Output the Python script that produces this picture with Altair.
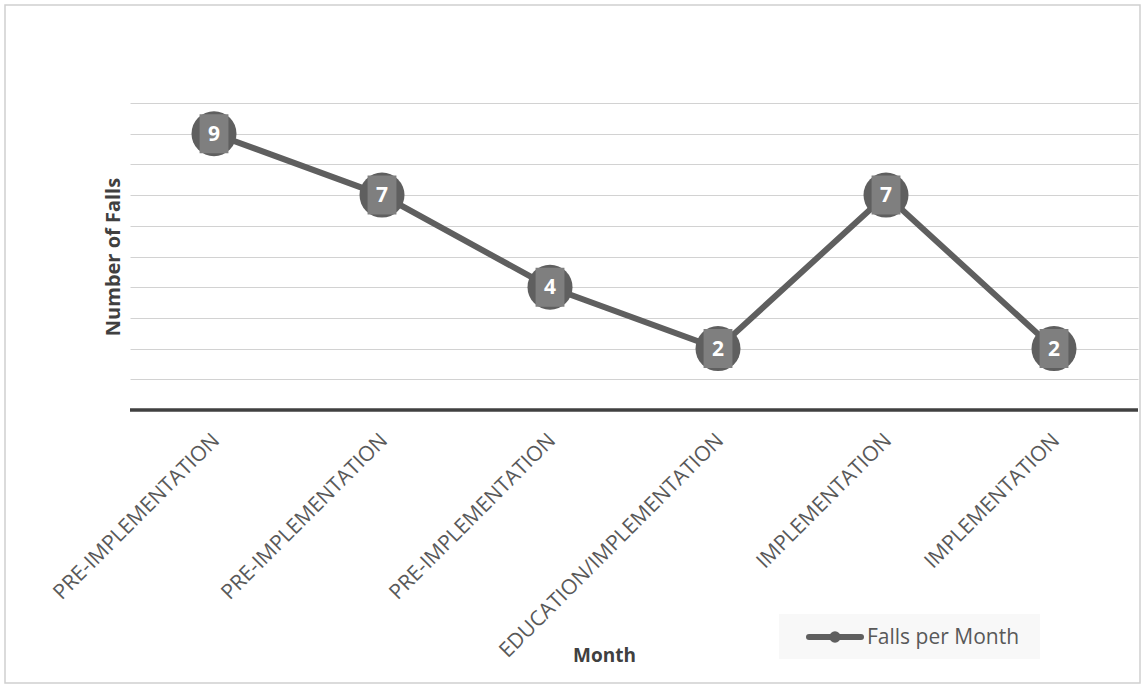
import altair as alt
import pandas as pd

# ---- data ----
positions = [0, 1, 2, 3, 4, 5]
months = ["PRE-IMPLEMENTATION", "PRE-IMPLEMENTATION", "PRE-IMPLEMENTATION",
          "EDUCATION/IMPLEMENTATION", "IMPLEMENTATION", "IMPLEMENTATION"]
falls = [9, 7, 4, 2, 7, 2]
grid_values = [1, 2, 3, 4, 5, 6, 7, 8, 9, 10]
series_name = "Falls per Month"

df = pd.DataFrame({"pos": positions, "month": months, "falls": falls})
one = alt.Data(values=[{"k": 1}])

W, H = 1008, 307
FONT = "Open Sans"
DARK = "#5f5f5f"

label_expr = "[" + ",".join("'" + m + "'" for m in months) + "][datum.value]"

x_enc = alt.X("pos:O",
              scale=alt.Scale(type="point", padding=0.5),
              axis=alt.Axis(title="Month", labelExpr=label_expr, labelAngle=-45,
                            labelAlign="right", labelBaseline="middle",
                            labelFont=FONT, labelFontSize=21, labelColor="#595959",
                            labelPadding=27, labelOffset=2, labelLimit=0,
                            labelOverlap=False,
                            ticks=False, domain=False, grid=False,
                            titleFont=FONT, titleFontSize=19, titleFontWeight="bold",
                            titleColor="#404040", titleX=474, titleY=251,
                            titleBaseline="alphabetic", titleAlign="center"))
y_enc = alt.Y("falls:Q",
              scale=alt.Scale(domain=[0, 10], nice=False, zero=True),
              axis=alt.Axis(title="Number of Falls", values=grid_values, tickCount=10,
                            labels=False, ticks=False, domain=False,
                            grid=True, gridColor="#d2d2d2", gridWidth=1,
                            titleFont=FONT, titleFontSize=20, titleFontWeight="bold",
                            titleColor="#404040", titleAngle=-90, titleX=-11,
                            titleY=H / 2, titleAlign="center",
                            titleBaseline="alphabetic"))

base = alt.Chart(df)

border = alt.Chart(one).mark_rect(fill="white", fillOpacity=0, stroke="#d0d0d0", strokeWidth=1.5).encode(
    x=alt.value(-125), x2=alt.value(1010), y=alt.value(-98), y2=alt.value(580))

line = base.mark_line(color=DARK, strokeWidth=6).encode(x=x_enc, y=y_enc)

baseline = alt.Chart(one).mark_rule(color="#404040", strokeWidth=3.5).encode(
    y=alt.datum(0, type="quantitative"))

circles = base.mark_point(shape="circle", filled=True, size=2025, color=DARK, opacity=1).encode(
    x=x_enc, y=y_enc)

squares = base.mark_point(shape="M-0.74,-1L0.74,-1L0.74,1L-0.74,1Z", filled=True,
                          size=1521, color="#7f7f7f", opacity=1).encode(
    x=x_enc, y=y_enc)

texts = base.mark_text(font=FONT, fontSize=21, fontWeight="bold", color="white",
                       baseline="middle", align="center", dy=1).encode(
    x=x_enc, y=y_enc, text="falls:Q")

# legend (drawn)
leg_box = alt.Chart(one).mark_rect(fill="#f8f8f8").encode(
    x=alt.value(649), x2=alt.value(910), y=alt.value(511), y2=alt.value(556))
leg_line = alt.Chart(one).mark_rule(color=DARK, strokeWidth=6, strokeCap="round").encode(
    x=alt.value(679), x2=alt.value(731), y=alt.value(534))
leg_dot = alt.Chart(one).mark_point(shape="circle", filled=True, size=130, color=DARK, opacity=1).encode(
    x=alt.value(705), y=alt.value(534))
leg_text = alt.Chart(one).mark_text(font=FONT, fontSize=21, color="#595959", align="left",
                                    baseline="alphabetic").encode(
    x=alt.value(737), y=alt.value(541), text=alt.value(series_name))

chart = alt.layer(border, line, baseline, circles, squares, texts,
                  leg_box, leg_line, leg_dot, leg_text).properties(
    width=W, height=H,
    autosize=alt.AutoSizeParams(type="none"),
    padding={"left": 130, "top": 103, "right": 7, "bottom": 275},
    background="white",
).configure_view(stroke=None)

chart.save("out.html", embed_options={"renderer": "svg", "actions": False})
